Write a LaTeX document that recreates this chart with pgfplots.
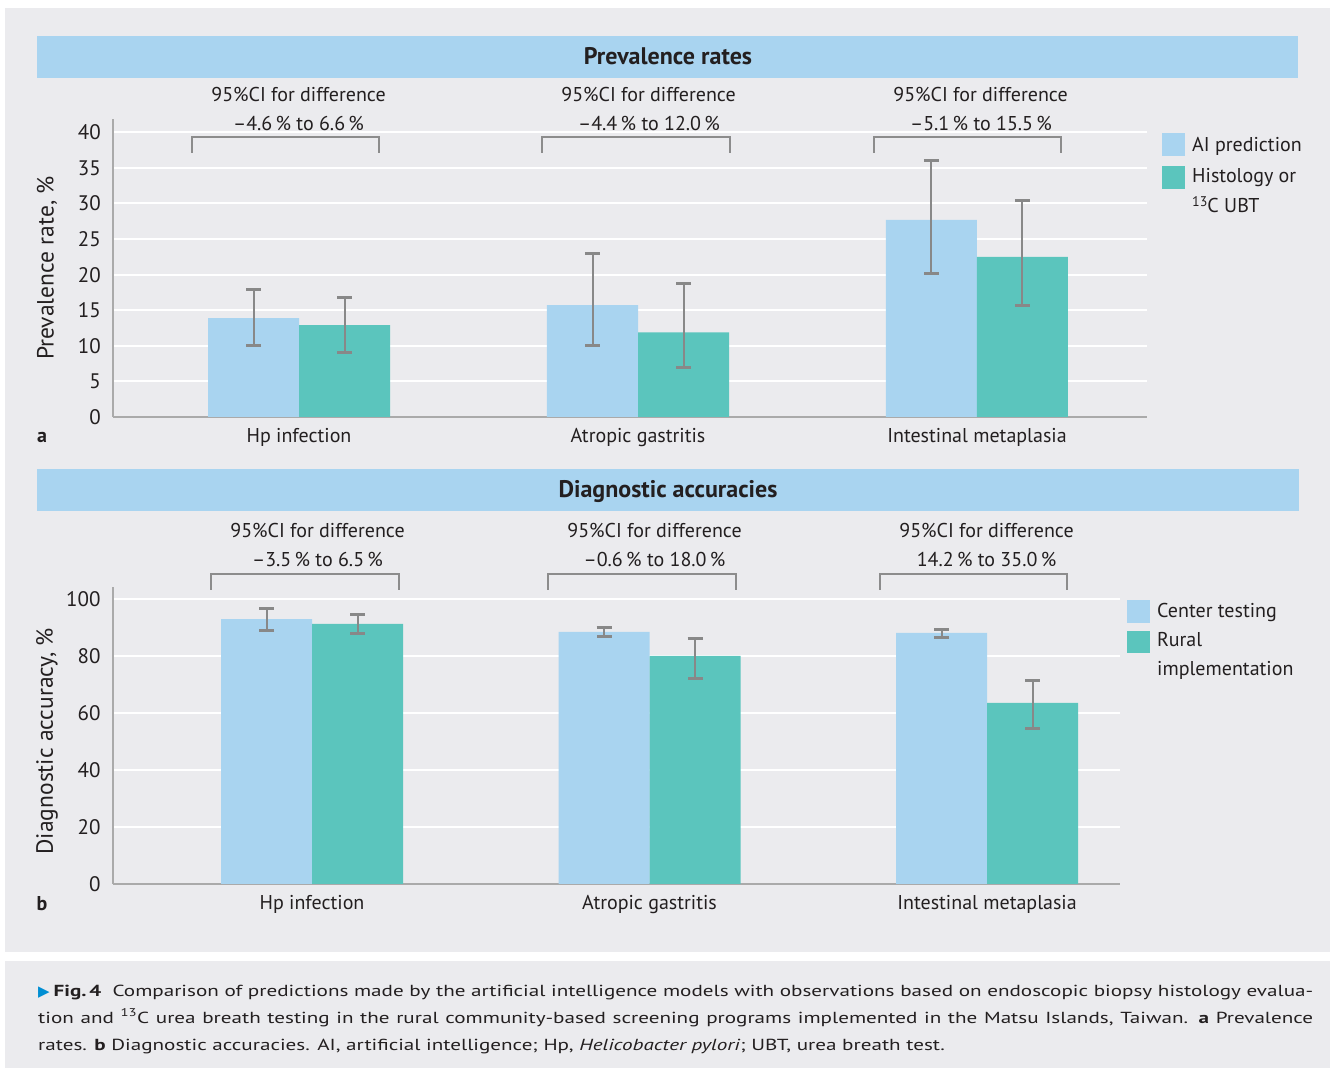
\documentclass[border=0pt]{standalone}
\usepackage{fontspec}
\setmainfont{PT Sans}
\newfontfamily\capfont[FakeStretch=1.32]{PT Sans}
\newfontfamily\dejavu{DejaVu Sans}
\usepackage{pgfplots}
\pgfplotsset{compat=1.18}
\pgfdeclarelayer{bg}
\pgfsetlayers{bg,main}
\definecolor{panel}{RGB}{235,235,238}
\definecolor{hdr}{RGB}{169,212,240}
\definecolor{cblue}{RGB}{169,212,240}
\definecolor{cteal}{RGB}{91,197,189}
\definecolor{errg}{RGB}{136,136,136}
\definecolor{axg}{RGB}{170,170,170}
\definecolor{brk}{RGB}{140,140,140}
\definecolor{txt}{RGB}{35,31,32}
\definecolor{arrowblue}{RGB}{0,142,211}
\pgfplotsset{
 mybars/.style={
  scale only axis,
  ybar=0pt, bar width=91pt,
  axis x line*=bottom, axis y line*=left,
  axis line style={-, draw=axg, line width=2pt},
  major tick length=0pt,
  ymajorgrids, grid style={white, line width=2pt},
  xtick={0,1,2},
  xticklabels={Hp infection, Atropic gastritis, Intestinal metaplasia},
  xticklabel style={anchor=base, inner sep=0pt, yshift=-26pt, font=\fontsize{20}{24}\selectfont, text=txt},
  yticklabel style={anchor=base east, inner sep=0pt, xshift=-12pt, yshift=-7.5pt, font=\fontsize{21}{24}\selectfont, text=txt},
  /pgf/number format/assume math mode=true,
  label style={font=\fontsize{23.5}{26}\selectfont, text=txt},
  error bars/y dir=both, error bars/y explicit,
  error bars/error bar style={draw=errg, line width=2pt},
  error bars/error mark=-,
  error bars/error mark options={rotate=90, mark size=7.5pt, line width=3pt, draw=errg},
  clip=false,
 }
}
\begin{document}
\begin{tikzpicture}
% top axis
\begin{axis}[mybars, at={(113pt,655pt)}, anchor=south west, width=1034pt, height=298pt,
  xmin=-0.5487, xmax=2.5015, ymin=0, ymax=41.85, ytick={0,5,...,40},
  ylabel={Prevalence rate, \%},
  ylabel style={at={(axis description cs:-0.0638,0.5)}, anchor=center}]
\addplot[fill=cblue, draw=none] table[x=x, y=y, y error plus=ep, y error minus=em] {
x y ep em
0 13.9 4.0 3.8
1 15.7 7.3 5.6
2 27.7 8.35 7.5
};
\addplot[fill=cteal, draw=none] table[x=x, y=y, y error plus=ep, y error minus=em] {
x y ep em
0 12.9 3.9 3.8
1 11.9 6.9 4.9
2 22.5 7.9 6.8
};
\end{axis}

% bottom axis
\begin{axis}[mybars, at={(112.7pt,188.2pt)}, anchor=south west, width=1007.3pt, height=297.1pt,
  xmin=-0.5905, xmax=2.394, ymin=0, ymax=104.4, ytick={0,20,...,100},
  ylabel={Diagnostic accuracy, \%},
  ylabel style={at={(axis description cs:-0.0652,0.48)}, anchor=center}]
\addplot[fill=cblue, draw=none] table[x=x, y=y, y error plus=ep, y error minus=em] {
x y ep em
0 93.0 3.8 3.9
1 88.5 1.7 1.5
2 88.2 1.3 1.6
};
\addplot[fill=cteal, draw=none] table[x=x, y=y, y error plus=ep, y error minus=em] {
x y ep em
0 91.3 3.5 3.3
1 80.1 6.2 7.9
2 63.6 7.9 8.9
};
\end{axis}

\begin{scope}[x=1pt,y=1pt]
\begin{pgfonlayer}{bg}
\fill[white] (0,0) rectangle (1335,1072);
\fill[panel] (5,120) rectangle (1330,1064);
\fill[panel] (5,4) rectangle (1330,111);
\end{pgfonlayer}
% headers
\fill[hdr] (37,994) rectangle (1298,1036);
\node[anchor=base, inner sep=0pt, text=txt, font=\fontsize{24}{28}\selectfont\bfseries] at (668,1007) {Prevalence rates};
\fill[hdr] (37,561) rectangle (1299,603);
\node[anchor=base, inner sep=0pt, text=txt, font=\fontsize{24}{28}\selectfont\bfseries] at (668,574) {Diagnostic accuracies};

% CI annotations
\begin{scope}[every node/.style={anchor=base, inner sep=0pt, text=txt, font=\fontsize{20}{24}\selectfont}]
\node at (298.5,970) {95\%CI for difference};
\node at (298.5,941) {–4.6\,\% to 6.6\,\%};
\node at (648.5,970) {95\%CI for difference};
\node at (649,941) {–4.4\,\% to 12.0\,\%};
\node at (980.5,970) {95\%CI for difference};
\node at (981,941) {–5.1\,\% to 15.5\,\%};
\node at (317.5,534) {95\%CI for difference};
\node at (317.5,505) {–3.5\,\% to 6.5\,\%};
\node at (654.5,534) {95\%CI for difference};
\node at (654.5,505) {–0.6\,\% to 18.0\,\%};
\node at (986.5,534) {95\%CI for difference};
\node at (986.5,505) {14.2\,\% to 35.0\,\%};
\end{scope}
\begin{scope}[draw=brk, line width=2.5pt]
\draw (192,919) -- (192,935) -- (379,935) -- (379,919);
\draw (542,919) -- (542,935) -- (730,935) -- (730,919);
\draw (874,919) -- (874,935) -- (1061,935) -- (1061,919);
\draw (211,482) -- (211,498) -- (399,498) -- (399,482);
\draw (548,482) -- (548,498) -- (736,498) -- (736,482);
\draw (880,482) -- (880,498) -- (1067,498) -- (1067,482);
\end{scope}

% legends
\fill[cblue] (1162,916) rectangle (1185,939);
\fill[cteal] (1162,883) rectangle (1185,906);
\fill[cblue] (1127,449) rectangle (1150,472);
\fill[cteal] (1127,419) rectangle (1150,441);
\begin{scope}[every node/.style={anchor=base west, inner sep=0pt, text=txt, font=\fontsize{20}{24}\selectfont}]
\node at (1192,920) {AI prediction};
\node at (1192,889) {Histology or};
\node at (1192,859) {{\fontsize{14}{16}\selectfont\raisebox{0.45em}{13}}C UBT};
\node at (1157,455) {Center testing};
\node at (1157,426) {Rural};
\node at (1157,397) {implementation};
\end{scope}

% panel letters
\node[anchor=base, inner sep=0pt, text=txt, font=\fontsize{20}{24}\selectfont\bfseries] at (42,629) {a};
\node[anchor=base, inner sep=0pt, text=txt, font=\fontsize{20}{24}\selectfont\bfseries] at (42,162) {b};

% caption
\begin{scope}[every node/.style={anchor=base west, inner sep=0pt, text=txt, font=\capfont\fontsize{16}{20}\selectfont}]
\node at (38,76) {\makebox[1275pt][s]{{\color{arrowblue}\dejavu\fontsize{15}{16}\selectfont ▶}\kern4pt\textbf{Fig.\,4}\ \ Comparison of predictions made by the artificial intelligence models with observations based on endoscopic biopsy histology evalua-}};
\node at (38,49) {\makebox[1275pt][s]{tion and \textsuperscript{13}C urea breath testing in the rural community-based screening programs implemented in the Matsu Islands, Taiwan. \textbf{a} Prevalence}};
\node at (38,22) {rates. \textbf{b} Diagnostic accuracies. AI, artificial intelligence; Hp, \textit{Helicobacter pylori}; UBT, urea breath test.};
\end{scope}
\end{scope}
\end{tikzpicture}
\end{document}
